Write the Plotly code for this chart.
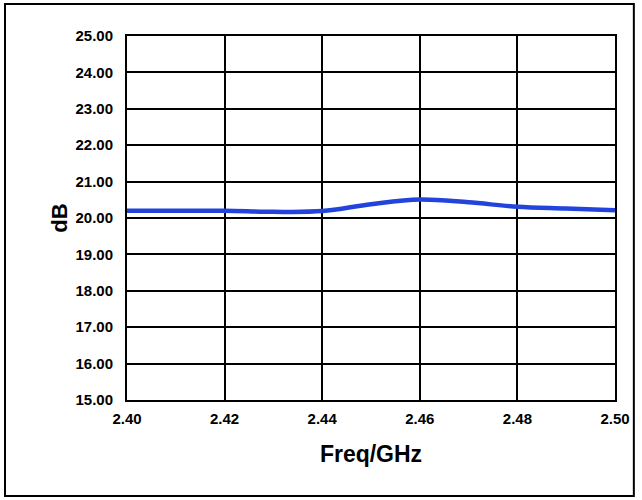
import plotly.graph_objects as go

freq = [2.40, 2.41, 2.42, 2.43, 2.44, 2.45, 2.46, 2.47, 2.48, 2.49, 2.50]
gain_db = [20.20, 20.20, 20.20, 20.17, 20.19, 20.38, 20.51, 20.43, 20.31, 20.26, 20.21]
x_ticks = [2.40, 2.42, 2.44, 2.46, 2.48, 2.50]
y_ticks = [15, 16, 17, 18, 19, 20, 21, 22, 23, 24, 25]

fig = go.Figure()
fig.add_trace(go.Scatter(
    x=freq, y=gain_db, mode="lines",
    line=dict(color="#2244dd", width=4.5, shape="spline", smoothing=1.0),
    showlegend=False,
))

L, R, T, B = 127, 23, 36, 100
W, H = 642, 500
pw, ph = W - L - R, H - T - B

FONT = "Liberation Sans, Arial, sans-serif"
font_tick = dict(family=FONT, size=15, color="black")
fig.update_layout(
    width=W, height=H,
    margin=dict(l=L, r=R, t=T, b=B),
    paper_bgcolor="white", plot_bgcolor="white",
    xaxis=dict(
        range=[2.40, 2.50], tickvals=x_ticks,
        ticktext=[f"<b>{v:.2f}</b>" for v in x_ticks],
        showgrid=True, gridcolor="black", gridwidth=2,
        showline=True, linecolor="black", linewidth=2, mirror=True,
        zeroline=False, ticks="", tickfont=font_tick, ticklabelstandoff=4,
        title=dict(text="<b>Freq/GHz</b>", font=dict(family=FONT, size=23, color="black"), standoff=20),
    ),
    yaxis=dict(
        range=[15, 25], tickvals=y_ticks,
        ticktext=[f"<b>{v:.2f}</b>" for v in y_ticks],
        showgrid=True, gridcolor="black", gridwidth=2,
        showline=True, linecolor="black", linewidth=2, mirror=True,
        zeroline=False, ticks="", tickfont=font_tick, ticklabelstandoff=9,
        title=dict(text="<b>dB</b>", font=dict(family=FONT, size=22, color="black"), standoff=2),
    ),
)

# outer frame around the whole picture
x0 = (4 - L) / pw
x1 = (638 - L) / pw
y1 = 1 + (T - 4) / ph
y0 = -(496 - (H - B)) / ph
fig.add_shape(type="rect", xref="paper", yref="paper", x0=x0, x1=x1, y0=y0, y1=y1,
              line=dict(color="black", width=2), layer="above")

fig.write_html("out.html")
